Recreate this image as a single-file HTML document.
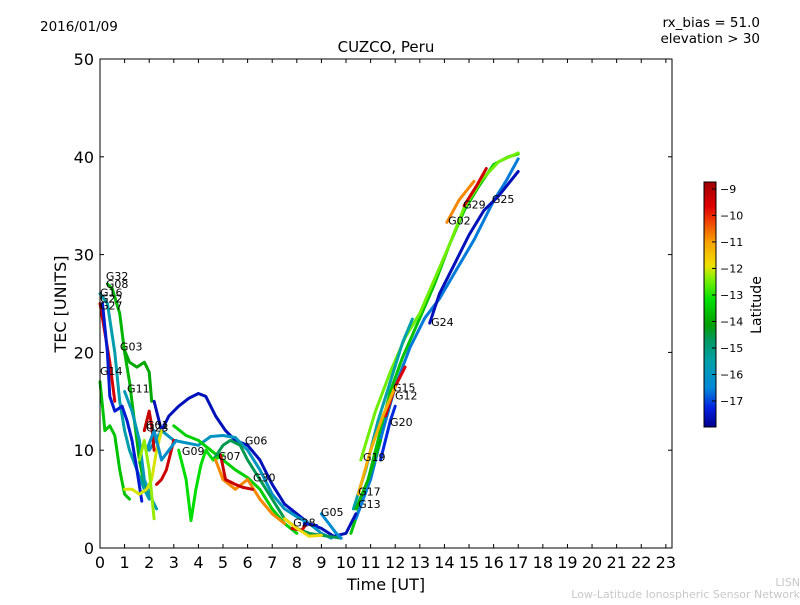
<!DOCTYPE html>
<html><head><meta charset="utf-8"><style>
body{margin:0;background:#fff;}
svg text{font-family:"DejaVu Sans","Liberation Sans",sans-serif;}
</style></head><body>
<svg id="chart" width="800" height="600" xmlns="http://www.w3.org/2000/svg">
<defs>
<linearGradient id="jetgrad" x1="0" y1="1" x2="0" y2="0"></linearGradient>
</defs>
<text x="40" y="31" font-size="13.5">2016/01/09</text>
<text x="760" y="27" font-size="13.5" text-anchor="end">rx_bias = 51.0</text>
<text x="760" y="43" font-size="13.5" text-anchor="end">elevation &gt; 30</text>
<text x="386" y="52" font-size="15" text-anchor="middle">CUZCO, Peru</text>
<g id="plot"></g>
<rect x="100" y="59" width="572" height="489" fill="none" stroke="#000" stroke-width="1"/>
<g id="xticks"></g>
<g id="yticks"></g>
<text x="386" y="590" font-size="16" text-anchor="middle">Time [UT]</text>
<text x="66" y="304" font-size="16" text-anchor="middle" transform="rotate(-90 66 304)">TEC [UNITS]</text>
<rect x="704" y="182" width="12" height="245" fill="url(#jetgrad)" stroke="#000" stroke-width="1"/>
<g id="cbticks"></g>
<text x="761" y="305" font-size="14" text-anchor="middle" transform="rotate(-90 761 305)">Latitude</text>
<text x="800" y="586" font-size="11" fill="#c8c8c8" text-anchor="end">LISN</text>
<text x="800" y="598" font-size="11" fill="#c8c8c8" text-anchor="end">Low-Latitude Ionospheric Sensor Network</text>
</svg>
<script>
const xTicks=[0,1,2,3,4,5,6,7,8,9,10,11,12,13,14,15,16,17,18,19,20,21,22,23];
const yTicks=[0,10,20,30,40,50];
const cbTicks=[-9,-10,-11,-12,-13,-14,-15,-16,-17];
const trackLat=[-13.6,-12.5,-15.5,-16.6,-17.6,-10.8,-9.4,-9.6,-11.2,-13.8,-17.2,
-13.8,-15.6,-9.5,-13.6,-17.4,-14,-15.8,-17.6,-16,-13.4,-14.6,-13.2,-10.8,-9.3,-12,-9.3,-9.4,-9.4,-16.4,-11.8,-17.5,-16.2,-12.3];
const trackTime=[
[10.2,10.8,11.3,11.8,12.3,13,13.6,14.2,14.8,15.4,16,16.6,17],
[10.6,11.2,11.8,12.4,13,13.6,14.2,14.8,15.5,16.2,17],
[10.3,10.8,11.3,11.8,12.3,12.7],
[10.4,11,11.5,12,12.6,13.2,13.8,14.5,15.2,16,16.5,17],
[13.4,13.8,14.4,15,15.6,16.2,17],
[14.1,14.6,15.2],
[14.8,15.3,15.7],
[11.6,12,12.4],
[10.5,11,11.5,12],
[10.4,10.9,11.4],
[11.4,11.8,12],
[0.3,0.5,0.8,1,1.2,1.4,1.6,1.8,2],
[0,0.3,0.6,0.8,1,1.2,1.5,1.8,2],
[0,0.2,0.4,0.6],
[0,0.2,0.4,0.6,0.8,1,1.2],
[0.1,0.3,0.4,0.6,0.9,1.1,1.3,1.5,1.7],
[0.95,1.2,1.5,1.8,2,2.1],
[1,1.3,1.6,1.8,2.1,2.3],
[2.2,2.5,2.8,3.2,3.6,4,4.3,4.7,5.1,5.5,6,6.5,7,7.5,8,8.5,9,9.5,10,10.4],
[2,2.5,3,4,4.5,5,5.5,6,6.5,7,7.5,8,8.5,9,9.4],
[3,3.5,4,4.5,5,5.5,6,6.5,7,7.5,8],
[4.6,5,5.3,5.7,6,6.5,7,7.5,8,8.5,9,9.8],
[3.2,3.5,3.7,3.9,4.1,4.3,4.6,5],
[4.7,5,5.5,6,6.5,7,7.5],
[4.9,5.1,5.5,5.8,6.2],
[1,1.3,1.6,1.9,2.1,2.3,2.5],
[1.8,2,2.1,2.2],
[2.3,2.5,2.7,3],
[7.8,8.2,8.4],
[9,9.3,9.6,9.8],
[7.5,8,8.5,9],
[8.3,8.8],
[1.9,2.2,2.5,2.8,3.1],
[1.6,1.8,2,2.2]
];
const trackTec=[
[1.5,6,11,16,19.5,23.5,27,31,34.5,37,39.2,40,40.3],
[9,14,18,21.5,24,27.5,31,34.8,37.6,39.5,40.4],
[4,8,13,17,21,23.4],
[3,7,12,16.5,20.5,23.5,25.5,28.5,31.5,35.5,37.5,39.8],
[23,26,29,32,34.5,36,38.5],
[33.3,35.6,37.5],
[35,37,38.8],
[13.5,16.5,18.5],
[5.5,10,13.5,16.5],
[4,7,11],
[9,13,14.5],
[27,26.5,24,20,17,13,9,6.5,5.5],
[26,25,20,15,12,10,8,6,5],
[25,22,19,15],
[17,12,12.5,11.5,8,5.5,5],
[25,20,15.5,14,14.5,13,11,8,4.8],
[20.5,19,18.5,19,18,15],
[16,14,11,7,5,4],
[15,12,13.5,14.5,15.3,15.8,15.5,13.5,12,11,10.5,9,6.5,4.5,3.5,2.5,2,1.2,1.5,3.5],
[10,12,11,10.5,11.4,11.5,11.3,10,8,5.5,4,3.2,2.5,1.5,1],
[12.5,11.5,11,10,9,8,7.2,6,4,2.5,1.5],
[9,10.5,11,10.5,9,7,5,3,2,1.5,1.3,1],
[10,7,2.8,6,8.5,10,9,9.5],
[9,7,6,7,5,3.5,2.5],
[9.5,7,6.5,6.2,6],
[6,6,5.5,6,7,10,12],
[12,14,12.5,10],
[6.5,7,8,11],
[2,1.8,2.5],
[3.5,2.5,1.5,1],
[3,2,1.2,1.3],
[2.5,2.3],
[10,12,9,10,11],
[9,11,8,3]
];
const labelNames=["G32","G08","G16","G22","G27","G03","G14","G11","G01","G23","G09","G06","G07","G30","G28","G05","G13","G17","G19","G20","G12","G15","G24","G02","G29","G25"];
const labelTime=[0.24,0.24,0,0,0,0.81,0,1.1,1.87,1.87,3.33,5.89,4.8,6.22,7.85,8.98,10.49,10.49,10.69,11.79,11.99,11.91,13.46,14.15,14.76,15.93];
const labelTec=[27.8,27.0,26.1,25.5,24.8,20.6,18.1,16.3,12.6,12.3,9.9,11.0,9.4,7.2,2.6,3.7,4.5,5.8,9.3,12.9,15.6,16.4,23.1,33.5,35.1,35.7];

const NS='http://www.w3.org/2000/svg';
const X0=100,X1=672,XMAX=23.25,Y0=548,Y1=59,YMAX=50;
const CB0=427,CB1=182,LMIN=-17.98,LMAX=-8.74;
const cmapPos=[0,0.076,0.16,0.27,0.355,0.42,0.52,0.605,0.66,0.755,0.84,0.9,1];
const cmapCol=[[0,0,140],[0,32,224],[0,136,216],[0,160,168],[0,152,96],[0,160,0],[0,224,0],[128,240,0],[240,224,0],[248,160,0],[240,64,0],[224,0,0],[160,0,0]];
function xs(t){return X0+t/XMAX*(X1-X0);}
function ys(v){return Y0-v/YMAX*(Y0-Y1);}
function cbs(l){return CB0-(l-LMIN)/(LMAX-LMIN)*(CB0-CB1);}
function cmapV(v){
  v=Math.max(0,Math.min(1,v));
  for(let i=1;i<cmapPos.length;i++){
    if(v<=cmapPos[i]){const f=(v-cmapPos[i-1])/(cmapPos[i]-cmapPos[i-1]);const a=cmapCol[i-1],b=cmapCol[i];
      return 'rgb('+[0,1,2].map(k=>Math.round(a[k]+(b[k]-a[k])*f)).join(',')+')';}
  }
  return 'rgb(160,0,0)';
}
function jet(l){return cmapV((l-LMIN)/(LMAX-LMIN));}
function mk(tag,attrs,parent){const e=document.createElementNS(NS,tag);for(const k in attrs)e.setAttribute(k,attrs[k]);parent.appendChild(e);return e;}
const grad=document.getElementById('jetgrad');
cmapPos.forEach((p,i)=>{mk('stop',{offset:p,'stop-color':'rgb('+cmapCol[i].join(',')+')'},grad);});
const plot=document.getElementById('plot');
for(let i=0;i<trackTime.length;i++){
  const pts=trackTime[i].map((t,j)=>xs(t).toFixed(1)+','+ys(trackTec[i][j]).toFixed(1)).join(' ');
  const p=mk('polyline',{points:pts,fill:'none',stroke:jet(trackLat[i]),'stroke-width':3,'stroke-linejoin':'round','stroke-linecap':'round'},plot);
  
  
}
for(let i=0;i<labelNames.length;i++){
  const t=mk('text',{x:xs(labelTime[i]),y:ys(labelTec[i])+4,'font-size':11},plot);
  t.textContent=labelNames[i];
  
  
}
const xg=document.getElementById('xticks');
xTicks.forEach(v=>{
  const x=xs(v);
  const a=mk('line',{x1:x,x2:x,y1:Y0,y2:Y0-4,stroke:'#000'},xg);
  
  
  const b=mk('line',{x1:x,x2:x,y1:Y1,y2:Y1+4,stroke:'#000'},xg);
  
  
  const t=mk('text',{x:x,y:568,'font-size':16,'text-anchor':'middle'},xg);
  t.textContent=v;
  
  
});
const yg=document.getElementById('yticks');
yTicks.forEach(v=>{
  const y=ys(v);
  const a=mk('line',{x1:X0,x2:X0+4,y1:y,y2:y,stroke:'#000'},yg);
  
  
  const b=mk('line',{x1:X1,x2:X1-4,y1:y,y2:y,stroke:'#000'},yg);
  
  
  const t=mk('text',{x:94,y:y+6,'font-size':16,'text-anchor':'end'},yg);
  t.textContent=v;
  
  
});
const cg=document.getElementById('cbticks');
cbTicks.forEach(v=>{
  const y=cbs(v);
  const a=mk('line',{x1:712,x2:716,y1:y,y2:y,stroke:'#000'},cg);
  
  
  const t=mk('text',{x:720,y:y+4,'font-size':11},cg);
  t.textContent='\u2212'+Math.abs(v);
  
  
});
</script>
</body></html>
